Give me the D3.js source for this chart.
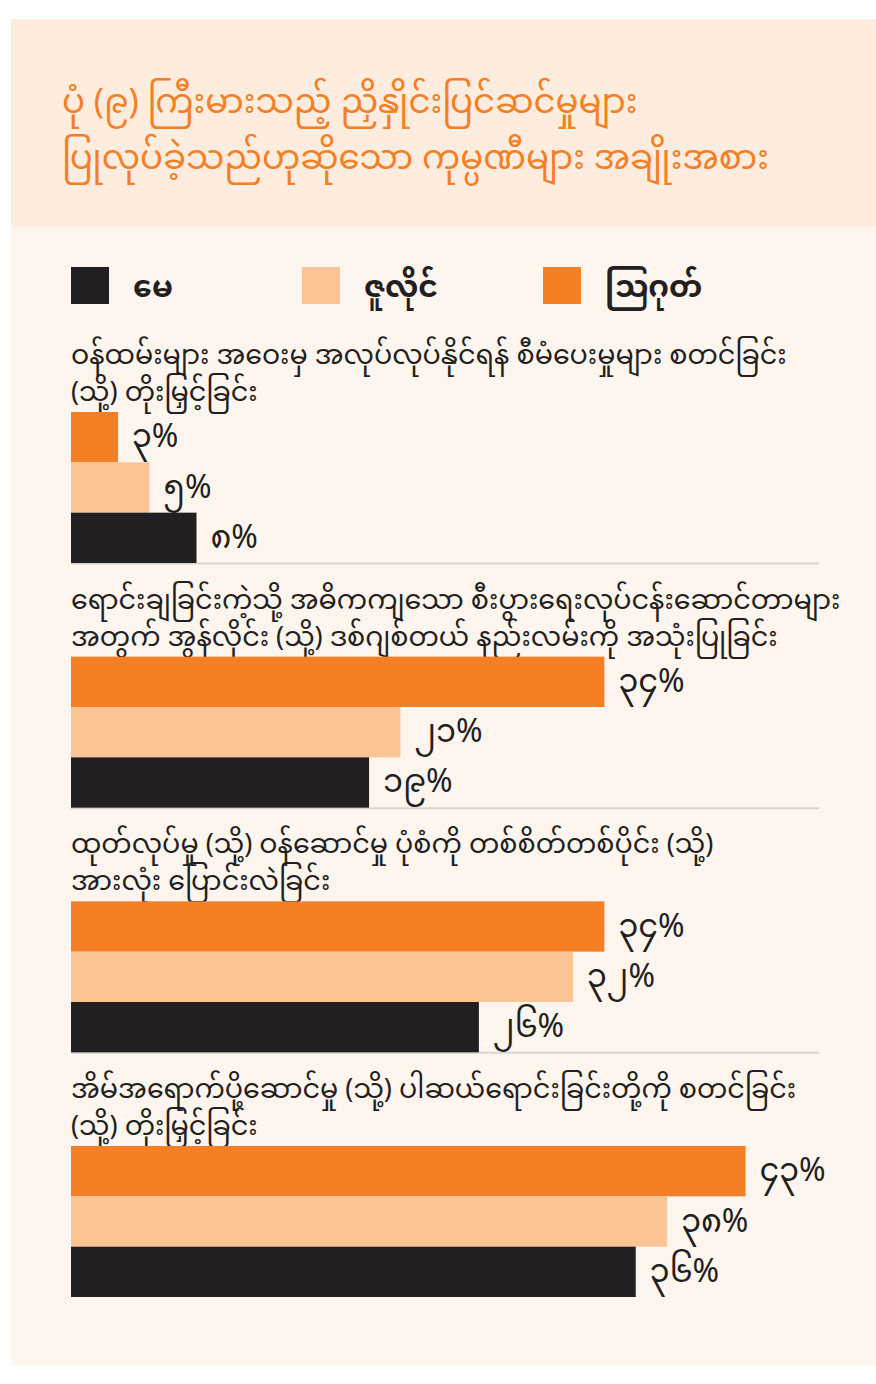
<!DOCTYPE html>
<html>
<head>
<meta charset="utf-8">
<title>ပုံ (၉)</title>
<script src="https://d3js.org/d3.v7.min.js"></script>
<style>
 html, body { margin: 0; padding: 0; background: #ffffff; }
 svg text { font-family: "Noto Sans Myanmar", "Myanmar Text", "Padauk", "Noto Sans", sans-serif; }
</style>
</head>
<body>
<div id="chart"></div>
<script>
// chart data
const titleLines = [
  "ပုံ (၉) ကြီးမားသည့် ညှိနှိုင်းပြင်ဆင်မှုများ",
  "ပြုလုပ်ခဲ့သည်ဟုဆိုသော ကုမ္ပဏီများ အချိုးအစား"
];
const series = ["မေ", "ဇူလိုင်", "သြဂုတ်"];
const seriesColors = ["#231f20", "#fbc495", "#f47f24"];
const categories = [
  ["ဝန်ထမ်းများ အဝေးမှ အလုပ်လုပ်နိုင်ရန် စီမံပေးမှုများ စတင်ခြင်း", "(သို့) တိုးမြှင့်ခြင်း"],
  ["ရောင်းချခြင်းကဲ့သို့ အဓိကကျသော စီးပွားရေးလုပ်ငန်းဆောင်တာများ", "အတွက် အွန်လိုင်း (သို့) ဒစ်ဂျစ်တယ် နည်းလမ်းကို အသုံးပြုခြင်း"],
  ["ထုတ်လုပ်မှု (သို့) ဝန်ဆောင်မှု ပုံစံကို တစ်စိတ်တစ်ပိုင်း (သို့)", "အားလုံး ပြောင်းလဲခြင်း"],
  ["အိမ်အရောက်ပို့ဆောင်မှု (သို့) ပါဆယ်ရောင်းခြင်းတို့ကို စတင်ခြင်း", "(သို့) တိုးမြှင့်ခြင်း"]
];
const mayValues = [8, 19, 26, 36];
const julyValues = [5, 21, 32, 38];
const augValues = [3, 34, 34, 43];

const W = 876, H = 1384;
const mmDigits = "၀၁၂၃၄၅၆၇၈၉";
const toMM = n => String(n).split("").map(c => mmDigits[+c]).join("") + "%";

const svg = d3.select("#chart").append("svg")
  .attr("width", W).attr("height", H);

// panel backgrounds
svg.append("rect").attr("x", 11).attr("y", 19).attr("width", W - 11).attr("height", 1346)
  .attr("fill", "#fdf5ee");
svg.append("rect").attr("x", 11).attr("y", 19).attr("width", W - 11).attr("height", 208)
  .attr("fill", "#feeddf");

svg.append("g").selectAll("text").data(titleLines).join("text")
  .attr("x", 62).attr("y", (d, i) => 113 + i * 56)
  .attr("fill", "#f47f24").attr("font-size", 34)
  .text(d => d);

// legend
const legendX = d3.scaleOrdinal().domain(series).range([71, 302, 543]);
const legend = svg.append("g").selectAll("g").data(series).join("g")
  .attr("transform", d => `translate(${legendX(d)},267)`);
legend.append("rect").attr("width", 38).attr("height", 37)
  .attr("fill", (d, i) => seriesColors[i]);
legend.append("text").attr("x", 62).attr("y", 30)
  .attr("font-size", 30).attr("font-weight", "bold").attr("fill", "#231f20")
  .text(d => d);

// scales
const x = d3.scaleLinear().domain([0, 48]).range([71, 824]);
const groupY = d3.scaleLinear().domain([0, 3]).range([412, 1146]);
const barOrder = ["aug", "jul", "may"];
const barY = d3.scaleBand().domain(barOrder).range([0, 151]);
const barColor = d3.scaleOrdinal().domain(barOrder).range([seriesColors[2], seriesColors[1], seriesColors[0]]);

const rows = categories.map((c, i) => ({
  label: c,
  bars: [
    { key: "aug", v: augValues[i] },
    { key: "jul", v: julyValues[i] },
    { key: "may", v: mayValues[i] }
  ]
}));

const groups = svg.append("g").selectAll("g").data(rows).join("g")
  .attr("transform", (d, i) => `translate(0,${groupY(i)})`);

groups.append("g").selectAll("text").data(d => d.label).join("text")
  .attr("x", 71).attr("y", (d, i) => -48 + i * 37)
  .attr("font-size", 27).attr("fill", "#231f20")
  .text(d => d);

groups.filter((d, i) => i < rows.length - 1).append("line")
  .attr("x1", x(0)).attr("x2", 819)
  .attr("y1", barY.range()[1] + 0.5).attr("y2", barY.range()[1] + 0.5)
  .attr("stroke", "#d9d6d2").attr("stroke-width", 2);

groups.selectAll("rect").data(d => d.bars).join("rect")
  .attr("x", x(0)).attr("y", d => barY(d.key))
  .attr("width", d => x(d.v) - x(0)).attr("height", barY.bandwidth())
  .attr("fill", d => barColor(d.key));

groups.selectAll("text.val").data(d => d.bars).join("text")
  .attr("class", "val")
  .attr("x", d => x(d.v) + 14).attr("y", d => barY(d.key) + barY.bandwidth() / 2 + 10)
  .attr("font-size", 32).attr("fill", "#231f20")
  .text(d => toMM(d.v));
</script>
</body>
</html>
